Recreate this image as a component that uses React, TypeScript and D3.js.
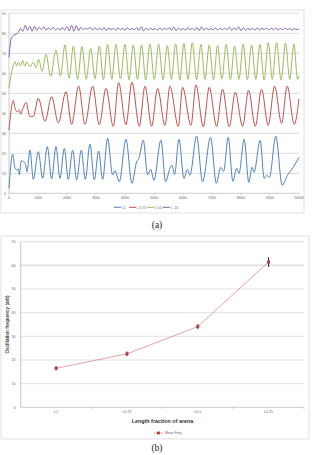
import React from 'react';
import * as d3 from 'd3';

// ---- panel (a): oscillation traces ----
const timeTicks = [0, 1000, 2000, 3000, 4000, 5000, 6000, 7000, 8000, 9000, 10000];
const levelTicks = [0, 10, 20, 30, 40, 50, 60, 70, 80, 90];
const traceNames = ['L1', 'L 0.75', 'L 0.5', 'L .25'];
const traceColors = ['#4f81bd', '#c0504d', '#9bbb59', '#8064a2'];

const traceL1: [number, number][] = [
  [0, 2.5], [126, 19.5], [207, 12.5], [287, 11.6], [322, 12.3], [356, 9.2], [425, 16.3], [506, 15.8],
  [563, 14.8], [620, 10.8], [724, 21.6], [839, 7], [1011, 20.8], [1160, 7.5], [1321, 23.3], [1471, 7.2],
  [1620, 23.3], [1758, 7.5], [1907, 22.5], [2045, 7], [2195, 21.6], [2332, 6.7], [2493, 21.6], [2631, 7],
  [2792, 24.6], [2941, 6.7], [3091, 21.1], [3229, 7], [3401, 27.5], [3573, 9.2], [3654, 11.3], [3803, 5.8],
  [4033, 27], [4240, 5], [4401, 15.8], [4481, 17.5], [4630, 26.6], [4780, 9.2], [4883, 12], [4998, 6.5],
  [5240, 26.6], [5400, 5.8], [5550, 12.5], [5619, 14], [5711, 9.5], [5860, 27], [6032, 7.5], [6147, 12],
  [6239, 9], [6469, 28.6], [6676, 5.8], [6950, 28], [7150, 5], [7300, 13], [7400, 11], [7560, 28],
  [7720, 6], [7850, 12.5], [7930, 10], [8110, 27], [8270, 5.5], [8380, 13], [8450, 10.5], [8660, 26.5],
  [8800, 7.5], [8880, 9], [8980, 8], [9200, 28.5], [9420, 4], [9600, 9], [9800, 13], [10000, 18],
];

const traceL075: [number, number][] = [
  [0, 31.6], [150, 46.5], [207, 42.5], [287, 40.8], [356, 41.5], [402, 39.5], [471, 42], [586, 45.5],
  [724, 38.3], [839, 38.5], [1011, 47.5], [1241, 36], [1471, 48.3], [1700, 35.2], [1965, 50.8], [2160, 34.5],
  [2401, 53.6], [2620, 34.5], [2884, 53.6], [3114, 34.3], [3344, 52.5], [3596, 33.5], [3780, 55.3], [4033, 34.3],
  [4240, 55.6], [4493, 33.5], [4688, 53.6], [4918, 33.5], [5125, 52.5], [5377, 34], [5550, 53.6], [5837, 33.5],
  [5986, 53], [6274, 34], [6446, 54.2], [6699, 33.3], [6906, 53], [7158, 33.5], [7365, 52], [7595, 33.3],
  [7802, 50.5], [8055, 33.5], [8262, 51.5], [8491, 33.5], [8710, 52], [8939, 34], [9158, 53.6], [9399, 35],
  [9594, 53.6], [9835, 34.5], [10000, 47.2],
];

const traceL05: [number, number][] = [
  [0, 52.5], [92, 60.8], [150, 64.2], [207, 65.8], [264, 63.6], [322, 65.5], [402, 63.8], [471, 66.5],
  [540, 63.5], [609, 65.8], [724, 63.3], [839, 65.5], [931, 62.8], [1023, 67], [1138, 61], [1275, 69.5],
  [1436, 58.5], [1620, 71.6], [1775, 58.6], [1930, 74.2], [2075, 57.5], [2218, 73.6], [2365, 57], [2516, 73.3],
  [2665, 57], [2815, 72.5], [2965, 57.3], [3114, 73.6], [3255, 56.8], [3401, 74.5], [3545, 57], [3688, 74.5],
  [3845, 57.2], [3998, 74.5], [4140, 56.8], [4286, 74.2], [4430, 57], [4573, 74.2], [4715, 56.6], [4860, 74.7],
  [5010, 57], [5159, 74.5], [5310, 56.8], [5458, 73.8], [5600, 57], [5745, 74.7], [5890, 56.6], [6032, 75],
  [6175, 57], [6320, 75.3], [6470, 56.8], [6618, 74.5], [6760, 57], [6905, 74.2], [7050, 56.8], [7193, 73.8],
  [7340, 57.2], [7491, 74.5], [7635, 56.8], [7779, 73.6], [7930, 57], [8077, 74.7], [8220, 56.8], [8365, 74.2],
  [8510, 57], [8652, 74.5], [8795, 56.6], [8939, 75.3], [9080, 57], [9226, 75.3], [9380, 56.6], [9537, 75],
  [9680, 57], [9824, 74.7], [9950, 57], [10000, 58.8],
];

// sampled every 80 time units
const traceL025 = [
  68, 77.5, 79, 79.5, 80.5, 82.5, 81, 84, 81.5, 83.5, 81, 83.5, 81.5, 83, 81.8, 83.2,
  81.5, 82.8, 81.8, 83, 81.7, 82.5, 81.5, 82.8, 81.6, 83.4, 81.2, 84, 81, 83.8, 81.3, 83,
  81.8, 82.6, 82, 83, 81.6, 82.8, 81.8, 82.5, 81.7, 82.9, 81.5, 82.6, 81.9, 82.4, 81.6, 82.7,
  81.8, 82.5, 81.5, 82.8, 81.7, 82.4, 81.8, 82.9, 81.4, 83.3, 81.2, 82.6, 81.6, 82.5, 81.8, 82.4,
  81.6, 82.7, 81.7, 82.5, 81.9, 82.8, 81.5, 83.2, 81.3, 82.6, 81.7, 82.4, 81.6, 82.8, 81.8, 82.5,
  81.6, 82.9, 81.4, 83.3, 81.5, 82.6, 81.8, 82.4, 81.7, 82.7, 81.6, 82.5, 81.8, 82.6, 81.7, 83.1,
  81.5, 82.6, 81.8, 83.2, 81.3, 82.8, 81.6, 82.4, 81.8, 82.5, 81.6, 82.7, 81.7, 82.4, 81.9, 82.6,
  81.6, 82.5, 81.8, 82.7, 81.6, 82.4, 81.7, 82.6, 81.8, 82.5, 81.6, 82.3, 81.9, 82.2,
];
const traceL025Step = 80;

// ---- panel (b): mean frequency ----
const lengthLabels = ['L1', 'L0.75', 'L0.5', 'L0.25'];
const meanFreq = [16.5, 22.6, 34.1, 61.4];
const freqErr = [0.9, 1.0, 1.0, 2.1];
const freqTicks = [0, 10, 20, 30, 40, 50, 60, 70];

const FONT = '"Liberation Sans", Arial, sans-serif';
const SERIF = '"Liberation Serif", "DejaVu Serif", serif';

function PanelA() {
  const x = d3.scaleLinear().domain([0, 10000]).range([9, 299]);
  const y = d3.scaleLinear().domain([0, 90]).range([193.3, 13.3]);
  const line = d3.line<[number, number]>()
    .x(d => x(d[0]))
    .y(d => y(d[1]))
    .curve(d3.curveMonotoneX);
  const purple: [number, number][] = traceL025.map((v, i) => [Math.min(i * traceL025Step, 10000), v]);
  const traces = [traceL1, traceL075, traceL05, purple];
  const legendX = [114, 129, 147, 163];

  return (
    <g>
      <rect x={1} y={10} width={303} height={203} fill="#fff" stroke="#d9d9d9" strokeWidth={0.8} />
      {levelTicks.filter(t => t > 0).map(t => (
        <line key={t} x1={x(0)} x2={x(10000)} y1={y(t)} y2={y(t)} stroke="#b8b8b8" strokeWidth={0.5} />
      ))}
      <line x1={x(0)} x2={x(0)} y1={y(0)} y2={y(90)} stroke="#9a9a9a" strokeWidth={0.5} />
      <line x1={x(0)} x2={x(10000)} y1={y(0)} y2={y(0)} stroke="#9a9a9a" strokeWidth={0.5} />
      {timeTicks.map(t => (
        <g key={t}>
          <line x1={x(t)} x2={x(t)} y1={y(0)} y2={y(0) + 1.5} stroke="#9a9a9a" strokeWidth={0.5} />
          <text x={x(t)} y={y(0) + 6} fontSize={3.6} fill="#666" textAnchor="middle" fontFamily={FONT}>{t}</text>
        </g>
      ))}
      {levelTicks.map(t => (
        <text key={t} x={x(0) - 3} y={y(t) + 1.2} fontSize={3.6} fill="#666" textAnchor="end" fontFamily={FONT}>{t}</text>
      ))}
      {traces.map((pts, i) => (
        <path key={i} d={line(pts) ?? ''} fill="none" stroke={traceColors[i]} strokeWidth={1} strokeLinejoin="round" />
      ))}
      {traceNames.map((n, i) => (
        <g key={n}>
          <line x1={legendX[i]} x2={legendX[i] + 7} y1={207.3} y2={207.3} stroke={traceColors[i]} strokeWidth={1} />
          <text x={legendX[i] + 7.8} y={208.5} fontSize={3.4} fill="#666" fontFamily={FONT}>{n}</text>
        </g>
      ))}
      <text x={157} y={228} fontSize={9.5} textAnchor="middle" fontFamily={SERIF} fill="#222">(a)</text>
    </g>
  );
}

function PanelB() {
  const x = d3.scaleBand().domain(lengthLabels).range([20.7, 304]);
  const y = d3.scaleLinear().domain([0, 70]).range([407.3, 241.7]);
  const cx = (l: string) => (x(l) ?? 0) + x.bandwidth() / 2;
  const line = d3.line<number>()
    .x((_, i) => cx(lengthLabels[i]))
    .y(d => y(d));
  const minor = d3.range(0, 70.01, 2);

  return (
    <g>
      <rect x={1} y={236} width={308} height={203} fill="#fff" stroke="#d9d9d9" strokeWidth={0.8} />
      {freqTicks.filter(t => t > 0).map(t => (
        <line key={t} x1={20.7} x2={304} y1={y(t)} y2={y(t)}
          stroke={t === 60 ? '#e2e2e2' : '#c4c4c4'} strokeWidth={t === 60 ? 1.6 : 0.5} />
      ))}
      <line x1={20.7} x2={20.7} y1={y(0)} y2={y(70)} stroke="#9a9a9a" strokeWidth={0.5} />
      {minor.map(t => (
        <line key={t} x1={19.5} x2={20.7} y1={y(t)} y2={y(t)} stroke="#b0b0b0" strokeWidth={0.3} />
      ))}
      <line x1={20.7} x2={304} y1={y(0)} y2={y(0)} stroke="#9a9a9a" strokeWidth={0.5} />
      {lengthLabels.map(l => (
        <g key={l}>
          <line x1={(x(l) ?? 0) + x.bandwidth()} x2={(x(l) ?? 0) + x.bandwidth()} y1={y(0)} y2={y(0) + 1.6} stroke="#9a9a9a" strokeWidth={0.5} />
          <text x={cx(l)} y={y(0) + 6} fontSize={3.6} fill="#666" textAnchor="middle" fontFamily={FONT}>{l}</text>
        </g>
      ))}
      {freqTicks.map(t => (
        <text key={t} x={15.5} y={y(t) + 1.2} fontSize={3.6} fill="#666" textAnchor="end" fontFamily={FONT}>{t}</text>
      ))}
      <text transform={`translate(8.5,${(y(0) + y(70)) / 2}) rotate(-90)`} fontSize={4.6} fontWeight="bold"
        fill="#444" textAnchor="middle" fontFamily={FONT}>Oscillation frequency (arb)</text>
      <text x={162.5} y={422.5} fontSize={5.4} fontWeight="bold" fill="#333" textAnchor="middle" fontFamily={FONT}>
        Length  fraction of arena
      </text>
      <path d={line(meanFreq) ?? ''} fill="none" stroke="#d27f7d" strokeWidth={0.7} />
      {meanFreq.map((v, i) => (
        <g key={i}>
          <line x1={cx(lengthLabels[i])} x2={cx(lengthLabels[i])} y1={y(v - freqErr[i])} y2={y(v + freqErr[i])} stroke="#111" strokeWidth={0.9} />
          <rect x={cx(lengthLabels[i]) - 1.5} y={y(v) - 1.5} width={3} height={3} fill="#a8403e" />
        </g>
      ))}
      <line x1={154} x2={163} y1={433} y2={433} stroke="#d27f7d" strokeWidth={0.7} />
      <rect x={157} y={431.6} width={2.8} height={2.8} fill="#a8403e" />
      <text x={165} y={434.2} fontSize={3.4} fill="#666" fontFamily={FONT}>Mean Freq</text>
      <text x={157} y={451} fontSize={9.5} textAnchor="middle" fontFamily={SERIF} fill="#222">(b)</text>
    </g>
  );
}

export default function App() {
  return (
    <>
      <style>{'body{margin:0}'}</style>
      <svg width={313} height={455} viewBox="0 0 313 455" style={{ display: 'block', background: '#fff' }}>
        <PanelA />
        <PanelB />
      </svg>
    </>
  );
}
